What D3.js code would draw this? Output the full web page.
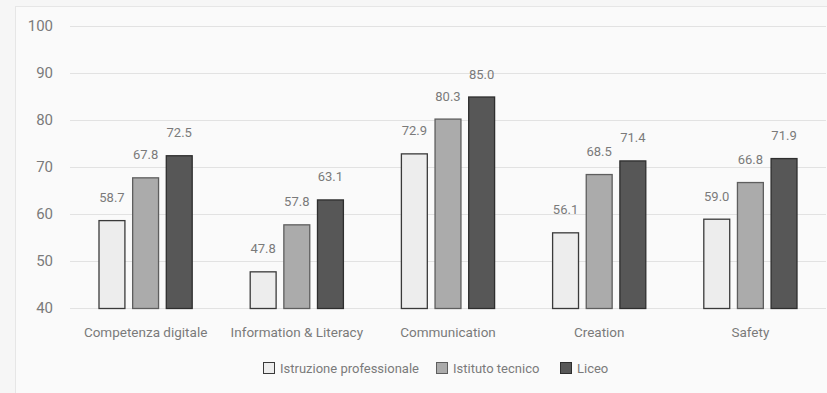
<!DOCTYPE html>
<html>
<head>
<meta charset="utf-8">
<script src="https://cdn.jsdelivr.net/npm/d3@7"></script>
<style>
  html, body { margin: 0; padding: 0; background: #f6f6f6; }
  svg { display: block; font-family: Roboto, "Noto Sans", sans-serif; font-weight: 400; }
</style>
</head>
<body>
<svg id="chart" width="827" height="393"></svg>
<script>
// Competence scores by school type
const categories = ["Competenza digitale", "Information & Literacy", "Communication", "Creation", "Safety"];
const seriesNames = ["Istruzione professionale", "Istituto tecnico", "Liceo"];
const professionale = [58.7, 47.8, 72.9, 56.1, 59.0];
const tecnico = [67.8, 57.8, 80.3, 68.5, 66.8];
const liceo = [72.5, 63.1, 85.0, 71.4, 71.9];
const yTicks = [40, 50, 60, 70, 80, 90, 100];

const seriesValues = [professionale, tecnico, liceo];
const fills = ["#ededed", "#ababab", "#575757"];
const strokes = ["#3a3a3a", "#5e5e5e", "#2e2e2e"];
const textColor = "#7a7a7a";

const svg = d3.select("#chart");

// faint page frame
svg.append("rect")
  .attr("x", 15.5).attr("y", 6.5).attr("width", 820).attr("height", 390)
  .attr("fill", "#fafafa").attr("stroke", "#e6e6e6");

const x0 = d3.scaleBand().domain(categories).range([70, 826])
  .paddingInner(0.377).paddingOuter(0.1885);
const x1 = d3.scaleBand().domain(d3.range(seriesNames.length)).range([0, x0.bandwidth()])
  .paddingInner(0.2);
const y = d3.scaleLinear().domain([40, 100]).range([308, 26]);

// gridlines
svg.append("g").selectAll("line").data(yTicks).join("line")
  .attr("x1", 70).attr("x2", 826)
  .attr("y1", d => y(d) + 0.5).attr("y2", d => y(d) + 0.5)
  .attr("stroke", "#e2e2e2").attr("stroke-width", 1);

// y axis labels
const yAxis = d3.axisLeft(y).tickValues(yTicks).tickSize(0).tickPadding(0);
const gy = svg.append("g").attr("transform", "translate(53,0)").call(yAxis);
gy.select(".domain").remove();
gy.selectAll("text").attr("font-size", 15).attr("fill", textColor)
  .attr("font-family", "Roboto, sans-serif");

// bars
const groups = svg.append("g").selectAll("g").data(categories).join("g")
  .attr("transform", d => `translate(${x0(d)},0)`);

groups.each(function (cat, ci) {
  const g = d3.select(this);
  seriesValues.forEach((vals, si) => {
    const v = vals[ci];
    g.append("rect")
      .attr("x", x1(si) + 0.5)
      .attr("y", y(v) + 0.5)
      .attr("width", x1.bandwidth() - 1)
      .attr("height", y(40) - y(v))
      .attr("fill", fills[si])
      .attr("stroke", strokes[si])
      .attr("stroke-width", 1.3);
    g.append("text")
      .attr("x", x1(si) + x1.bandwidth() / 2)
      .attr("y", y(v) - 18)
      .attr("text-anchor", "middle")
      .attr("font-size", 13)
      .attr("fill", textColor)
      .text(d3.format(".1f")(v));
  });
});

// category axis
const xAxis = d3.axisBottom(x0).tickSize(0).tickPadding(0);
const gx = svg.append("g").attr("transform", "translate(0,337)").call(xAxis);
gx.select(".domain").remove();
gx.selectAll("text").attr("font-size", 13.5).attr("fill", textColor)
  .attr("dy", 0).attr("font-family", "Roboto, sans-serif");

// legend
const legendX = [263, 436, 560];
const legend = svg.append("g").selectAll("g").data(seriesNames).join("g")
  .attr("transform", (d, i) => `translate(${legendX[i]},362)`);
legend.append("rect")
  .attr("x", 0.5).attr("y", 0.5).attr("width", 11).attr("height", 11)
  .attr("fill", (d, i) => fills[i]).attr("stroke", (d, i) => strokes[i]);
legend.append("text")
  .attr("x", 17).attr("y", 10.5)
  .attr("font-size", 13).attr("fill", textColor)
  .text(d => d);
</script>
</body>
</html>
